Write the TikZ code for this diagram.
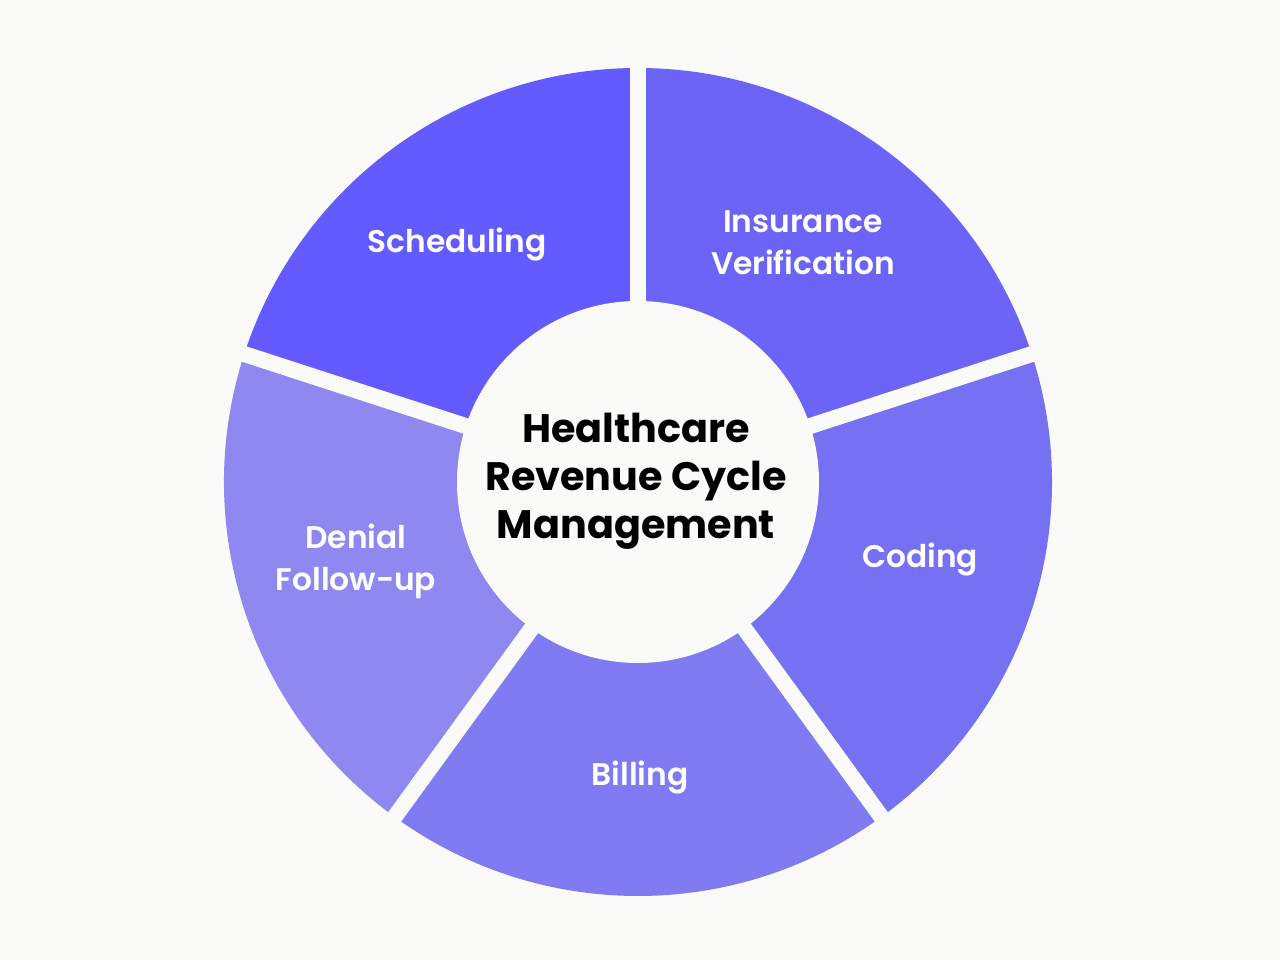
\documentclass[tikz,border=0pt]{standalone}
\usepackage{fontspec}
\usepackage{xcolor}
\setmainfont{Poppins}
\newfontfamily\segfont{Poppins SemiBold}
\definecolor{paper}{HTML}{FAFAF8}
\definecolor{schedc}{HTML}{635BFF}
\definecolor{insurc}{HTML}{6B64F6}
\definecolor{codec}{HTML}{7670F2}
\definecolor{billc}{HTML}{807AF3}
\definecolor{denialc}{HTML}{8E88F0}

\begin{document}
\begin{tikzpicture}[
  seglabel/.style={text=white,align=center,font=\segfont\fontsize{17.8}{24}\selectfont},
  hub/.style={text=black,align=center,font=\bfseries\fontsize{22.6}{27.3}\selectfont}]
\fill[paper] (-12.76,-9.56) rectangle (12.84,9.64);
\useasboundingbox (-12.76,-9.56) rectangle (12.84,9.64);
% ring segments
\fill[schedc] (0,0) -- (90:8.28) arc[start angle=90,end angle=162,radius=8.28] -- cycle;
\fill[insurc] (0,0) -- (18:8.28) arc[start angle=18,end angle=90,radius=8.28] -- cycle;
\fill[codec] (0,0) -- (-54:8.28) arc[start angle=-54,end angle=18,radius=8.28] -- cycle;
\fill[billc] (0,0) -- (-126:8.28) arc[start angle=-126,end angle=-54,radius=8.28] -- cycle;
\fill[denialc] (0,0) -- (162:8.28) arc[start angle=162,end angle=234,radius=8.28] -- cycle;
% gaps and hole
\foreach \a in {90,18,-54,-126,162}
  \draw[paper,line width=0.32cm] (0,0) -- (\a:9);
\fill[paper] (0,0) circle (3.62);
\node[seglabel] (sched) at (-3.62,4.75) {Scheduling};
\node[seglabel] (insur) at (3.3,4.78) {Insurance\\Verification};
\node[seglabel] (coding) at (5.64,-1.56) {Coding};
\node[seglabel] (billing) at (0.04,-5.92) {Billing};
\node[seglabel] (denial) at (-5.64,-1.58) {Denial\\Follow-up};
\node[hub] (rcm) at (-0.04,0.02) {Healthcare\\Revenue Cycle\\Management};
\end{tikzpicture}
\end{document}
